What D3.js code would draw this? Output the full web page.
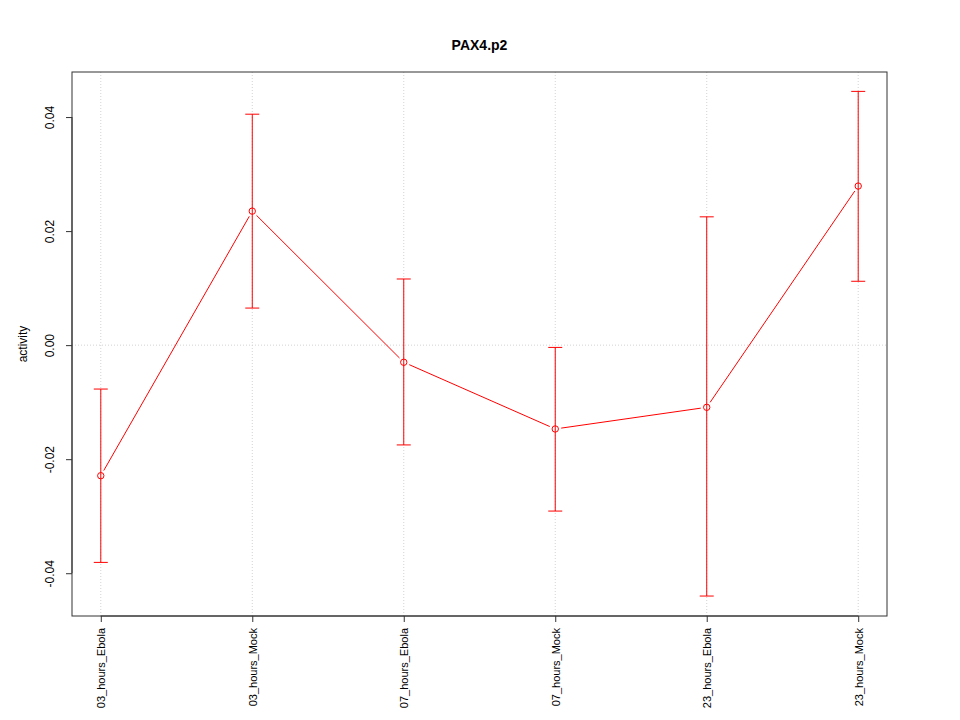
<!DOCTYPE html>
<html>
<head>
<meta charset="utf-8">
<script src="https://cdn.jsdelivr.net/npm/d3@7"></script>
<style>
  body { margin: 0; background: #fff; }
  svg { font-family: "Liberation Sans", Arial, sans-serif; }
</style>
</head>
<body>
<div id="chart"></div>
<script>
// Valores
const categorias = ['03_hours_Ebola', '03_hours_Mock', '07_hours_Ebola', '07_hours_Mock', '23_hours_Ebola', '23_hours_Mock'];
const medias = [-0.0229, 0.0235, -0.0030, -0.0147, -0.0109, 0.0279];
const limiteSup = [-0.0077, 0.0405, 0.0116, -0.0004, 0.0225, 0.0445];
const limiteInf = [-0.0381, 0.0065, -0.0175, -0.0291, -0.0440, 0.0112];
const ticksY = [-0.04, -0.02, 0.00, 0.02, 0.04];

(function () {
  const ROJO = '#ff0000';
  const ancho = 960, alto = 720;
  const izq = 72, der = 887, arriba = 72, abajo = 616;

  const svg = d3.select('#chart').append('svg')
    .attr('width', ancho).attr('height', alto);

  const x = d3.scaleLinear().domain([-0.19, 5.19]).range([izq, der]);
  const y = d3.scaleLinear().domain([-0.0475, 0.0479]).range([abajo, arriba]);

  // Rejilla punteada: verticales en cada categoría y horizontal en cero
  svg.append('g').selectAll('line').data(categorias).join('line')
    .attr('x1', (d, i) => x(i)).attr('x2', (d, i) => x(i))
    .attr('y1', arriba).attr('y2', abajo)
    .attr('stroke', '#d3d3d3').attr('stroke-dasharray', '1,2');
  svg.append('line')
    .attr('x1', izq).attr('x2', der).attr('y1', y(0)).attr('y2', y(0))
    .attr('stroke', '#d3d3d3').attr('stroke-dasharray', '1,2');

  // Barras de error
  const err = svg.append('g').attr('stroke', ROJO).attr('stroke-width', 1);
  categorias.forEach((c, i) => {
    const cx = x(i);
    err.append('line').attr('x1', cx).attr('x2', cx)
      .attr('y1', y(limiteSup[i])).attr('y2', y(limiteInf[i]));
    [limiteSup[i], limiteInf[i]].forEach((v) => {
      err.append('line').attr('x1', cx - 7).attr('x2', cx + 7)
        .attr('y1', y(v)).attr('y2', y(v));
    });
  });

  // Línea tipo "b": segmentos con hueco alrededor de los puntos
  const hueco = 6;
  for (let i = 0; i < medias.length - 1; i++) {
    const x1 = x(i), y1 = y(medias[i]), x2 = x(i + 1), y2 = y(medias[i + 1]);
    const dx = x2 - x1, dy = y2 - y1, len = Math.hypot(dx, dy);
    const ux = dx / len, uy = dy / len;
    svg.append('line')
      .attr('x1', x1 + ux * hueco).attr('y1', y1 + uy * hueco)
      .attr('x2', x2 - ux * hueco).attr('y2', y2 - uy * hueco)
      .attr('stroke', ROJO).attr('stroke-width', 1);
  }

  svg.append('g').selectAll('circle').data(medias).join('circle')
    .attr('cx', (d, i) => x(i)).attr('cy', (d) => y(d)).attr('r', 3.2)
    .attr('fill', 'none').attr('stroke', ROJO).attr('stroke-width', 1);

  // Marco
  svg.append('rect').attr('x', izq).attr('y', arriba)
    .attr('width', der - izq).attr('height', abajo - arriba)
    .attr('fill', 'none').attr('stroke', '#333').attr('stroke-width', 1);

  // Eje Y (guion ASCII como en R)
  const fmt = d3.format('.2f');
  const ejeY = svg.append('g').attr('transform', `translate(${izq},0)`)
    .call(d3.axisLeft(y).tickValues(ticksY).tickSize(6)
      .tickFormat((d) => fmt(d).replace('\u2212', '-')));
  ejeY.select('.domain').attr('d', `M0,${y(-0.04)}V${y(0.04)}`).attr('stroke', '#333');
  ejeY.selectAll('.tick line').attr('stroke', '#333');
  ejeY.selectAll('.tick text')
    .attr('font-size', 12).attr('fill', '#000')
    .attr('x', null).attr('dy', null)
    .attr('text-anchor', 'middle')
    .attr('transform', 'translate(-18,0) rotate(-90)');

  // Eje X
  const ejeX = svg.append('g').attr('transform', `translate(0,${abajo})`)
    .call(d3.axisBottom(x).tickValues(d3.range(categorias.length)).tickSize(6)
      .tickFormat((i) => categorias[i]));
  ejeX.select('.domain').attr('d', `M${x(0)},0H${x(5)}`).attr('stroke', '#333');
  ejeX.selectAll('.tick line').attr('stroke', '#333');
  ejeX.selectAll('.tick text')
    .attr('font-size', 11).attr('fill', '#000')
    .attr('y', null).attr('dy', null)
    .attr('text-anchor', 'end')
    .attr('dominant-baseline', 'central')
    .attr('transform', 'translate(0,12) rotate(-90)');

  // Títulos
  svg.append('text').attr('x', (izq + der) / 2).attr('y', 50)
    .attr('text-anchor', 'middle').attr('font-size', 14).attr('font-weight', 'bold')
    .text('PAX4.p2');
  svg.append('text').attr('transform', `translate(27,${(arriba + abajo) / 2}) rotate(-90)`)
    .attr('text-anchor', 'middle').attr('font-size', 12)
    .text('activity');
})();
</script>
</body>
</html>
